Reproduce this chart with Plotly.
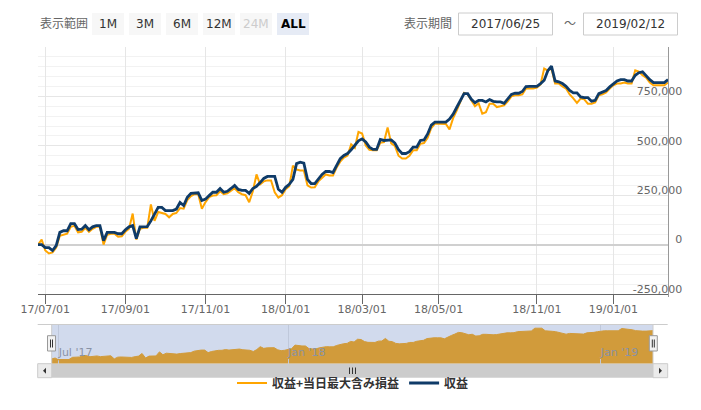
import plotly.graph_objects as go
import pandas as pd

# ---- calendar (ordinal axis: one category per data point) ----
seg1 = pd.bdate_range("2017-06-26", "2018-04-30")[::2]
seg2 = pd.date_range("2018-05-04", "2018-10-26", freq="7D")
seg3 = pd.bdate_range("2018-11-01", "2019-02-12")[::2]
dates = [d.strftime("%Y-%m-%d") for d in list(seg1) + list(seg2) + list(seg3)]

# 収益 (thousand yen)
profit_k = [
    0, 0, -15, -15, -30, -5, 62, 70, 70, 106,
    106, 76, 78, 96, 75, 90, 96, 96, 20, 62,
    62, 62, 55, 55, 75, 90, 96, 30, 90, 91,
    91, 120, 157, 188, 188, 172, 172, 172, 180, 213,
    198, 240, 259, 262, 262, 223, 230, 248, 265, 265,
    284, 265, 270, 284, 299, 279, 274, 274, 259, 284,
    295, 314, 335, 345, 345, 345, 280, 265, 290, 305,
    330, 410, 417, 412, 330, 309, 309, 330, 355, 370,
    370, 365, 400, 435, 451, 461, 480, 505, 525, 535,
    519, 493, 482, 482, 532, 527, 527, 530, 514, 480,
    461, 461, 470, 493, 493, 527, 530, 560, 605, 620,
    620, 620, 620, 635, 660, 695, 730, 764, 764, 735,
    718, 730, 730, 722, 734, 725, 722, 722, 715, 739,
    760, 766, 766, 775, 800, 801, 801, 801, 815, 832,
    880, 903, 828, 824, 815, 801, 780, 768, 768, 747,
    744, 744, 726, 730, 764, 773, 780, 798, 815, 828,
    835, 835, 828, 828, 857, 870, 874, 852, 835, 820,
    820, 820, 820, 835,
]

# 収益+当日最大含み損益 (thousand yen)
profit_loss_k = [
    0, 25, -30, -45, -40, -15, 45, 50, 55, 90,
    95, 62, 65, 85, 65, 80, 90, 90, 0, 50,
    55, 55, 40, 42, 65, 80, 157, 25, 80, 85,
    85, 203, 120, 165, 160, 155, 138, 155, 160, 185,
    182, 225, 245, 255, 255, 182, 215, 240, 248, 250,
    270, 255, 259, 270, 285, 265, 255, 250, 214, 270,
    355, 305, 320, 325, 325, 265, 238, 250, 280, 295,
    400, 380, 375, 375, 300, 289, 290, 320, 340, 355,
    350, 350, 390, 420, 440, 450, 507, 490, 570, 562,
    502, 480, 477, 477, 515, 519, 593, 512, 500, 450,
    436, 436, 450, 477, 477, 510, 514, 540, 590, 612,
    612, 612, 610, 583, 640, 680, 720, 768, 760, 730,
    700, 715, 663, 670, 713, 713, 696, 700, 705, 725,
    750, 756, 756, 760, 790, 790, 790, 795, 810, 891,
    880, 891, 815, 815, 800, 790, 760, 740, 717, 739,
    735, 713, 713, 720, 756, 760, 770, 790, 806, 815,
    815, 820, 815, 815, 882, 875, 857, 845, 820, 806,
    806, 806, 806, 820,
]

profit = [v * 1000 for v in profit_k]
profit_loss = [v * 1000 for v in profit_loss_k]

tick_days = ["2017-07-01", "2017-09-01", "2017-11-01", "2018-01-01",
             "2018-03-01", "2018-05-01", "2018-11-01", "2019-01-01"]
tick_labels = ["17/07/01", "17/09/01", "17/11/01", "18/01/01",
               "18/03/01", "18/05/01", "18/11/01", "19/01/01"]
nav_tick_days = ["2017-07-01", "2018-01-01", "2019-01-01"]
nav_tick_labels = ["Jul '17", "Jan '18", "Jan '19"]
y_tickvals = [-250000, 0, 250000, 500000, 750000, 1000000]
y_ticktext = ["-250,000", "0", "250,000", "500,000", "750,000", ""]

range_buttons = ["1M", "3M", "6M", "12M", "24M", "ALL"]
period_from = "2017/06/25"
period_to = "2019/02/12"

def nearest(day):
    t = pd.Timestamp(day)
    return min(dates, key=lambda d: abs((pd.Timestamp(d) - t).days))

main_ticks = [nearest(d) for d in tick_days]
nav_ticks = [nearest(d) for d in nav_tick_days]

ORANGE = "#ffa500"
NAVY = "#0f3b68"
FONT = "DejaVu Sans, Noto Sans CJK JP, sans-serif"
JFONT = "Noto Sans CJK JP, sans-serif"

# page has an 8px body margin: figure coords = page coords - 8
OFF = 8
W, H = 701 - 2 * OFF, 410 - 2 * OFF
PL, PR, PT, PB = 38, 668, 47, 377          # plot/paper area in page pixels
ML, MT = PL - OFF, PT - OFF
MR, MB = W - (PR - OFF), H - (PB - OFF)
PW, PH = PR - PL, PB - PT

def X(px):
    return (px - PL) / PW

def Y(py):
    return (PB - py) / PH

# main y scale: 1,000,000 at y=47, -250,000 at the x-axis line (y=294);
# domain runs 3px lower so the bottom inside label is not clipped
Y_TOP, Y_AXIS, Y_BOT = 47, 294, 297
per_px = (1000000 - (-250000)) / (Y_AXIS - Y_TOP)
y_min = -250000 - (Y_BOT - Y_AXIS) * per_px

fig = go.Figure()
fig.add_trace(go.Scatter(x=dates, y=profit_loss, name="収益+当日最大含み損益",
                         mode="lines", line=dict(color=ORANGE, width=2),
                         xaxis="x", yaxis="y"))
fig.add_trace(go.Scatter(x=dates, y=profit, name="収益",
                         mode="lines", line=dict(color=NAVY, width=2.8),
                         xaxis="x", yaxis="y"))
fig.add_trace(go.Scatter(x=dates, y=profit_loss, mode="lines", fill="tozeroy",
                         fillcolor=ORANGE, line=dict(color=ORANGE, width=1),
                         xaxis="x2", yaxis="y2", showlegend=False, hoverinfo="skip"))

shapes = []
annotations = []

def rect(x0, y0, x1, y1, fill, line=None, lw=1, layer="above"):
    shapes.append(dict(type="rect", xref="paper", yref="paper",
                       x0=X(x0), x1=X(x1), y0=Y(y1), y1=Y(y0),
                       fillcolor=fill, layer=layer,
                       line=dict(color=line or fill, width=lw if line else 0)))

def seg(x0, y0, x1, y1, color, width=1):
    shapes.append(dict(type="line", xref="paper", yref="paper",
                       x0=X(x0), x1=X(x1), y0=Y(y0), y1=Y(y1),
                       line=dict(color=color, width=width), layer="above"))

def poly(pts, fill):
    path = "M " + " L ".join(f"{X(a):.5f},{Y(b):.5f}" for a, b in pts) + " Z"
    shapes.append(dict(type="path", xref="paper", yref="paper", path=path,
                       fillcolor=fill, line=dict(width=0), layer="above"))

def text(x, y, s, size=12, color="#333", family=FONT, anchor="center"):
    annotations.append(dict(xref="paper", yref="paper", x=X(x), y=Y(y), text=s,
                            showarrow=False, xanchor=anchor, yanchor="middle",
                            font=dict(size=size, color=color, family=family)))

# ---- toolbar ----
text(38, 23, "表示範囲", size=12, color="#666", family=JFONT, anchor="left")
for i, b in enumerate(range_buttons):
    x0 = 92 + 37 * i
    sel = b == "ALL"
    rect(x0, 13, x0 + 32, 35, "#e6ebf5" if sel else "#f7f7f7")
    text(x0 + 16, 24, f"<b>{b}</b>" if sel else b, size=12,
         color="#000" if sel else ("#cccccc" if b == "24M" else "#333"))
text(402, 23, "表示期間", size=12, color="#666", family=JFONT, anchor="left")
rect(458.5, 13, 552.5, 35, "#ffffff", line="#cccccc")
text(505.5, 24, period_from, size=12, color="#333")
text(570, 22, "～", size=12, color="#666", family=JFONT)
rect(583.5, 13, 677.5, 35, "#ffffff", line="#cccccc")
text(630.5, 24, period_to, size=12, color="#333")

# ---- navigator ----
shapes.append(dict(type="rect", xref="x2 domain", yref="y2", x0=0, x1=1,
                   y0=-140000, y1=0, fillcolor=ORANGE, line=dict(width=0), layer="below"))
shapes.append(dict(type="rect", xref="x2 domain", yref="y2 domain", x0=0, x1=1,
                   y0=0, y1=1, fillcolor="rgba(102,133,194,0.3)", line=dict(width=0),
                   layer="above"))
seg(37.7, 324.5, 667.7, 324.5, "#cccccc")
seg(51.7, 324.5, 51.7, 363.5, "#cccccc")
seg(653, 324.5, 653, 363.5, "#cccccc")
for hx in (47.5, 649.3):
    rect(hx, 335.7, hx + 8, 351, "#f2f2f2", line="#999999")
    seg(hx + 3, 339.5, hx + 3, 347.5, "#333333")
    seg(hx + 5, 339.5, hx + 5, 347.5, "#333333")

# ---- scrollbar ----
rect(51.7, 363.7, 653, 377.7, "#cccccc")
rect(37.7, 363.7, 51.7, 377.7, "#ebebeb", line="#cccccc")
rect(653, 363.7, 667.7, 377.7, "#ebebeb", line="#cccccc")
poly([(46, 367.7), (46, 373.7), (43, 370.7)], "#333333")
poly([(659, 367.7), (659, 373.7), (662, 370.7)], "#333333")
for gx in (349.5, 352.5, 355.5):
    seg(gx, 367.5, gx, 374, "#333333")

fig.update_layout(
    width=W, height=H,
    margin=dict(l=ML, r=MR, t=MT, b=MB, pad=0, autoexpand=False),
    paper_bgcolor="white", plot_bgcolor="white",
    font=dict(family=FONT, size=11, color="#666"),
    showlegend=True,
    legend=dict(orientation="h", x=0.5, xanchor="center", y=Y(383), yanchor="middle",
                font=dict(family=JFONT, size=12, color="#333", weight="bold"),
                bgcolor="rgba(0,0,0,0)", itemwidth=30, tracegroupgap=0),
    xaxis=dict(domain=[0, 1], anchor="free", position=Y(Y_AXIS), type="category",
               categoryorder="array",
               categoryarray=dates, range=[0, len(dates) - 1], automargin=False,
               tickmode="array", tickvals=main_ticks, ticktext=tick_labels,
               ticks="outside", ticklen=9, tickcolor="#666", tickwidth=1,
               ticklabelstandoff=-4,
               showline=True, linecolor="#666", linewidth=1,
               showgrid=True, gridcolor="#e6e6e6", gridwidth=1,
               tickfont=dict(size=11, color="#666"), fixedrange=True),
    yaxis=dict(domain=[Y(Y_BOT), 1], anchor="x", side="right", automargin=False,
               range=[y_min, 1000000], tickmode="array",
               tickvals=y_tickvals, ticktext=y_ticktext,
               ticks="", ticklabelposition="inside", ticklabelstandoff=-15,
               ticklabelshift=-5,
               showgrid=True, gridcolor="#e6e6e6", gridwidth=1,
               minor=dict(tickmode="linear", tick0=0, dtick=50000, showgrid=True,
                          gridcolor="#f2f2f2", gridwidth=1, ticks=""),
               zeroline=True, zerolinecolor="#d0d0d0", zerolinewidth=2,
               showline=True, linecolor="#999", linewidth=1,
               tickfont=dict(size=11, color="#666"), fixedrange=True),
    xaxis2=dict(domain=[X(51.7), X(653)], anchor="y2", type="category", automargin=False,
                categoryorder="array", categoryarray=dates, range=[0, len(dates) - 1],
                tickmode="array", tickvals=nav_ticks, ticktext=nav_tick_labels,
                ticks="", ticklabelposition="inside right",
                showgrid=True, gridcolor="#e6e6e6", showline=False, zeroline=False,
                tickfont=dict(size=11, color="#999"), fixedrange=True),
    yaxis2=dict(domain=[Y(363.7), Y(324.5)], anchor="x2", range=[-140000, 998000],
                automargin=False,
                showgrid=False, showticklabels=False, zeroline=False, showline=False,
                ticks="", fixedrange=True),
    shapes=shapes,
    annotations=annotations,
)

fig.write_html("out.html")
